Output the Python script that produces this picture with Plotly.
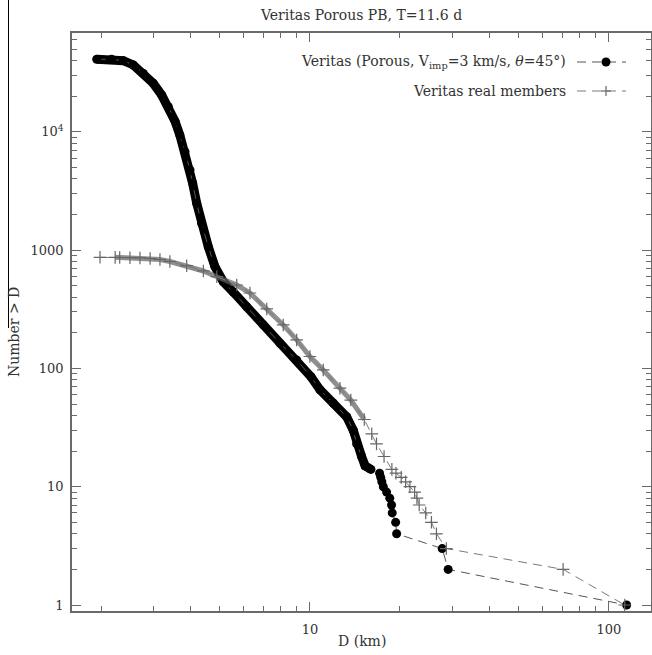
import plotly.graph_objects as go

# Simulated Veritas family from a porous parent body: cumulative N(>D)
sim_D = [1.935, 2.17, 2.375, 2.565, 2.77, 2.99, 3.19, 3.36, 3.54, 3.67,
         3.82, 3.97, 4.05, 4.18, 4.34, 4.57, 4.81, 5.13, 5.54, 6.14,
         6.98, 7.94, 9.03, 10.08, 10.8, 11.96, 13.27, 13.96, 14.33, 14.89,
         15.3, 16.0, 17.1, 17.25, 17.4, 17.6, 18.05, 18.5, 18.75, 18.85,
         19.35, 19.5, 27.7, 29.0, 114.7]
sim_N = [41000, 41000, 39900, 36700, 31200, 25700, 20500, 16300, 12200, 9400,
         6790, 4750, 3690, 2490, 1685, 1068, 724, 540, 442, 332,
         233, 163, 118, 85, 66, 51, 39, 30, 23, 18,
         15, 14, 13, 12, 11, 10, 9, 8, 7, 6,
         5, 4, 3, 2, 1]

# Observed Veritas family members: cumulative N(>D)
real_D = [1.985, 2.23, 2.31, 2.50, 2.70, 2.92, 3.15, 3.40, 3.87, 4.40,
          4.88, 5.69, 6.30, 7.17, 8.14, 9.03, 10.0, 11.08, 12.6, 13.7,
          15.2, 16.1, 16.7, 17.7, 18.8, 19.4, 20.2, 20.9, 21.6, 22.4,
          22.8, 23.2, 24.4, 25.5, 26.5, 28.6, 70.3, 113.0]
real_N = [869, 868, 866, 862, 858, 849, 833, 801, 738, 666,
          596, 507, 434, 318, 233, 174, 126, 97, 68, 54,
          37, 28, 23, 18, 14, 13, 12, 11, 10, 9,
          8, 7, 6, 5, 4, 3, 2, 1]

x_ticks = [10, 100]
x_tick_text = ["10", "100"]
x_minor = [2, 3, 4, 5, 6, 7, 8, 9, 20, 30, 40, 50, 60, 70, 80, 90]
y_ticks = [1, 10, 100, 1000, 10000]
y_tick_text = ["1", "10", "100", "1000", "10<sup>4</sup>"]
y_minor = [m * 10 ** k for k in range(5) for m in range(2, 10)]

title_text = "Veritas Porous PB, T=11.6 d"
x_title = "D (km)"
y_title = "Number &gt; D"
sim_label = "Veritas (Porous, V<sub>imp</sub>=3 km/s, <i>θ</i>=45°)"
real_label = "Veritas real members"

W, H = 652, 655
L, R, T, B = 72, 1, 33, 44
PW, PH = W - L - R, H - T - B
FONT = "DejaVu Serif"
TXT = "#333333"
AX = "#6a6a6a"


def px(x):
    return (x - L) / PW


def py(y):
    return (H - B - y) / PH


# points up to these indices overlap into continuous bands
SIM_DENSE = 32
REAL_DENSE = 21

fig = go.Figure()

fig.add_trace(go.Scatter(
    x=sim_D[:SIM_DENSE], y=sim_N[:SIM_DENSE], mode="lines",
    line=dict(color="black", width=9), hoverinfo="skip", showlegend=False))
fig.add_trace(go.Scatter(
    x=sim_D, y=sim_N, mode="lines+markers", name="sim",
    line=dict(color="#555555", width=1, dash="9px,6px"),
    marker=dict(symbol="circle", size=9, color="black"), showlegend=False))

fig.add_trace(go.Scatter(
    x=real_D[1:REAL_DENSE], y=real_N[1:REAL_DENSE], mode="lines",
    line=dict(color="rgba(95,95,95,0.7)", width=5),
    hoverinfo="skip", showlegend=False))
fig.add_trace(go.Scatter(
    x=real_D, y=real_N, mode="lines+markers", name="real",
    line=dict(color="#7a7a7a", width=1, dash="9px,6px"),
    marker=dict(symbol="cross-thin", size=9,
                line=dict(color="#666666", width=1.2)),
    showlegend=False))

axis_common = dict(
    type="log", showgrid=False, zeroline=False, automargin=False,
    ticks="inside", ticklen=9, tickwidth=1, tickcolor=AX,
    showline=True, linecolor=AX, linewidth=1.6, mirror="ticks",
    tickfont=dict(family=FONT, size=13, color=TXT),
)

fig.update_xaxes(
    range=[0.204, 2.141], tickmode="array", tickvals=x_ticks,
    ticktext=x_tick_text, ticklabelstandoff=6,
    minor=dict(tickmode="array", tickvals=x_minor, ticks="inside",
               ticklen=5, tickcolor=AX, showgrid=False),
    **axis_common)
fig.update_yaxes(
    range=[-0.0507, 4.835], tickmode="array", tickvals=y_ticks,
    ticktext=y_tick_text, ticklabelstandoff=4,
    minor=dict(tickmode="array", tickvals=y_minor, ticks="inside",
               ticklen=5, tickcolor=AX, showgrid=False),
    **axis_common)

annotations = [
    dict(x=px(362), y=py(641), text=x_title),
    dict(x=px(14), y=py(332), text=y_title, textangle=-90),
    dict(x=px(568), y=py(62), text=sim_label, xanchor="right"),
    dict(x=px(568), y=py(91), text=real_label, xanchor="right"),
]
for a in annotations:
    a.setdefault("xanchor", "center")
    a.update(xref="paper", yref="paper", yanchor="middle", showarrow=False,
             font=dict(family=FONT, size=14, color=TXT))

shapes = [
    # thin rule at the far left edge
    dict(type="line", xref="paper", yref="paper", x0=px(8.5), x1=px(8.5),
         y0=py(0), y1=py(328), line=dict(color="black", width=1)),
    # key samples
    dict(type="line", xref="paper", yref="paper", x0=px(577), x1=px(626),
         y0=py(62), y1=py(62), line=dict(color="#555555", width=1, dash="9px,6px")),
    dict(type="circle", xref="paper", yref="paper", x0=px(601.5), x1=px(610.5),
         y0=py(57.5), y1=py(66.5), fillcolor="black", line=dict(color="black", width=0)),
    dict(type="line", xref="paper", yref="paper", x0=px(577), x1=px(626),
         y0=py(91), y1=py(91), line=dict(color="#7a7a7a", width=1, dash="9px,6px")),
    dict(type="line", xref="paper", yref="paper", x0=px(601), x1=px(611),
         y0=py(91), y1=py(91), line=dict(color="#666666", width=1.2)),
    dict(type="line", xref="paper", yref="paper", x0=px(606), x1=px(606),
         y0=py(86), y1=py(96), line=dict(color="#666666", width=1.2)),
]

fig.update_layout(
    width=W, height=H,
    margin=dict(l=L, r=R, t=T, b=B, pad=0, autoexpand=False),
    paper_bgcolor="white", plot_bgcolor="white",
    title=dict(text=title_text, x=0.5, xref="paper", xanchor="center",
               y=1 - 15 / H, yref="container", yanchor="middle",
               font=dict(family=FONT, size=14, color=TXT)),
    annotations=annotations, shapes=shapes,
    showlegend=False,
)

fig.write_html("out.html")
